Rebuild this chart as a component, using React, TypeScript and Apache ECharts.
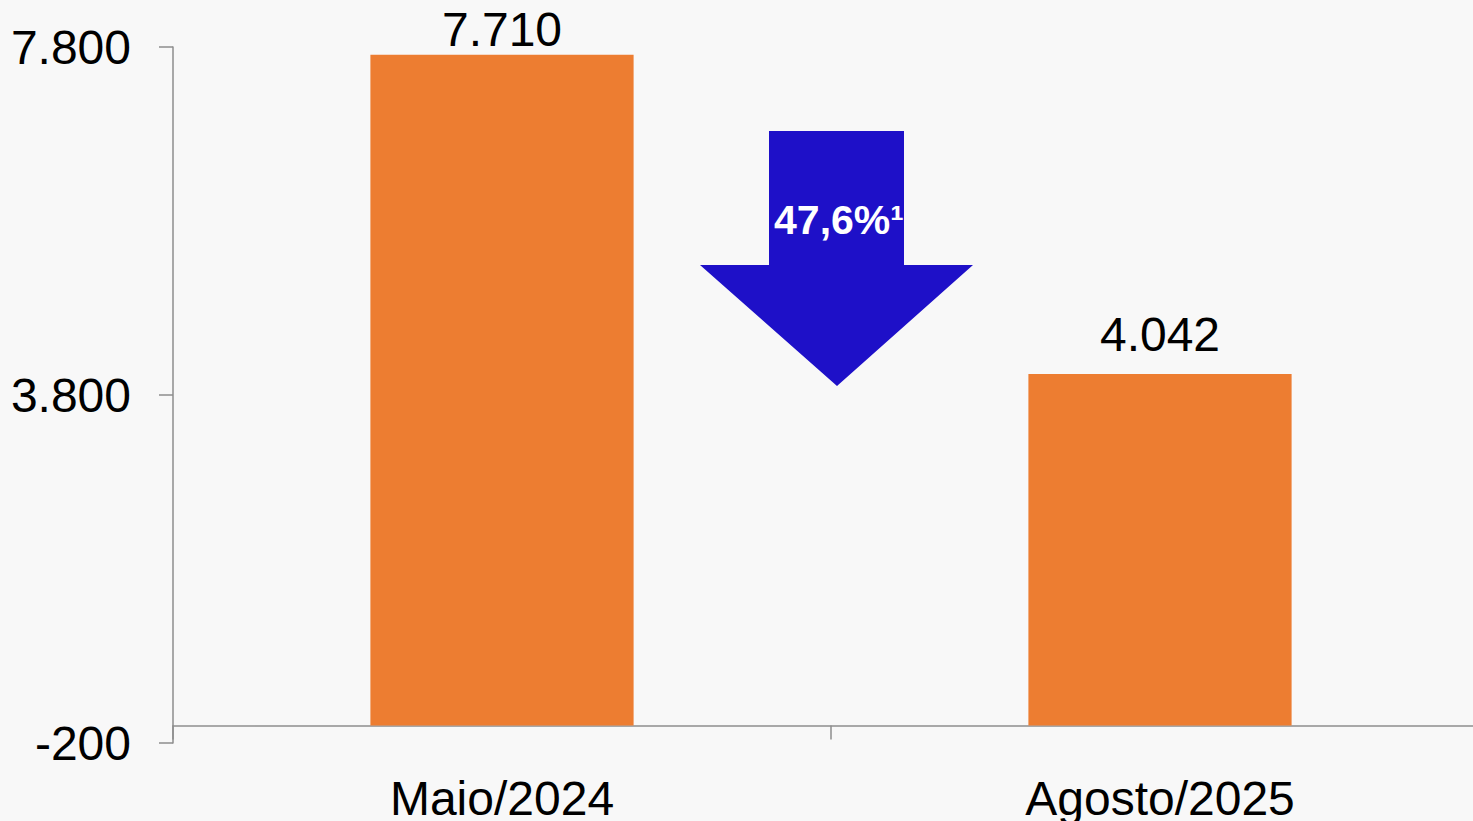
import React, { useEffect, useRef } from "react";
import * as echarts from "echarts";

const categories = ["Maio/2024", "Agosto/2025"];
const values = [7710, 4042];
const yMin = -200;
const yMax = 7800;
const yInterval = 4000;
const changeLabel = "47,6%¹";

const fmt = (v: number) => {
  const s = Math.abs(v).toString().replace(/\B(?=(\d{3})+(?!\d))/g, ".");
  return (v < 0 ? "-" : "") + s;
};

export default function App() {
  const ref = useRef<HTMLDivElement>(null);
  useEffect(() => {
    document.body.style.margin = "0";
    const chart = echarts.init(ref.current!, null, { renderer: "svg" });
    const font = "'Liberation Sans', Arial, sans-serif";
    const labelDistances = [1, 15];
    chart.setOption({
      animation: false,
      backgroundColor: "#f8f8f8",
      textStyle: { fontFamily: font },
      grid: { left: 173, right: -16, top: 47, bottom: 78, containLabel: false, outerBoundsMode: "none" },
      xAxis: {
        type: "category",
        data: categories,
        axisLine: { onZero: true, lineStyle: { color: "#8e8e8e", width: 1.5 } },
        axisTick: { show: true, length: 14, lineStyle: { color: "#8e8e8e", width: 1.5 } },
        axisLabel: { color: "#000", fontSize: 48, fontFamily: font, margin: 31 },
        splitLine: { show: false },
      },
      yAxis: {
        type: "value",
        min: yMin,
        max: yMax,
        interval: yInterval,
        axisLine: { show: true, lineStyle: { color: "#8e8e8e", width: 1.5 } },
        axisTick: { show: true, length: 14, lineStyle: { color: "#8e8e8e", width: 1.5 } },
        axisLabel: { color: "#000", fontSize: 48, fontFamily: font, margin: 42, formatter: (v: number) => fmt(v) },
        splitLine: { show: false },
      },
      series: [
        {
          type: "bar",
          data: values.map((v, i) => ({ value: v, label: { distance: labelDistances[i] } })),
          barWidth: "40%",
          itemStyle: { color: "#ED7D31" },
          label: {
            show: true,
            position: "top",
            distance: 4,
            color: "#000",
            fontSize: 48,
            fontFamily: font,
            formatter: (p: any) => fmt(p.value),
          },
        },
      ],
      graphic: [
        {
          type: "polygon",
          shape: {
            points: [
              [769, 131],
              [904, 131],
              [904, 265],
              [973, 265],
              [837, 386],
              [700, 265],
              [769, 265],
            ],
          },
          style: { fill: "#1E10C8" },
        },
        {
          type: "text",
          x: 839,
          y: 220,
          style: {
            text: changeLabel,
            fill: "#fff",
            fontSize: 41,
            fontWeight: "bold",
            fontFamily: font,
            align: "center",
            verticalAlign: "middle",
          },
        },
      ],
    });
    return () => chart.dispose();
  }, []);
  return (
    <div
      ref={ref}
      style={{ position: "absolute", left: 0, top: 0, width: 1473, height: 821 }}
    />
  );
}
